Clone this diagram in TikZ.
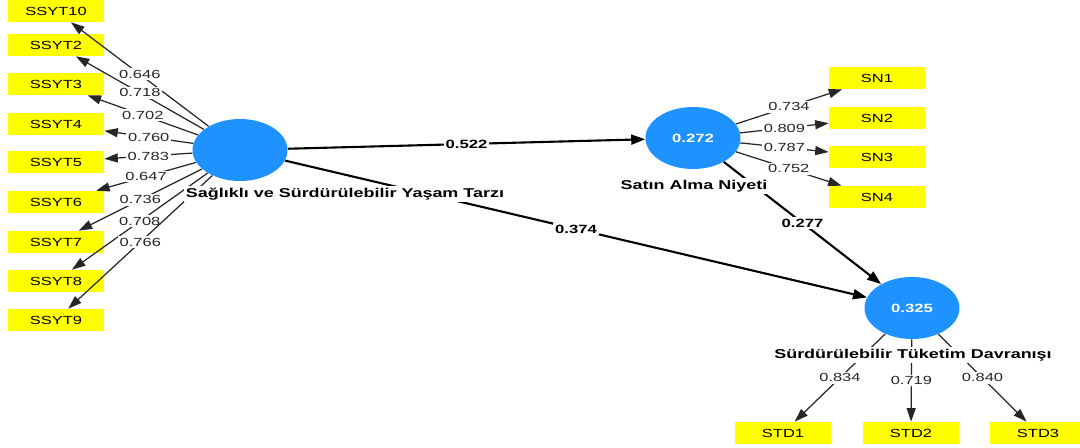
\documentclass[tikz,border=0pt]{standalone}
\usepackage{fontspec}
\newfontfamily\plsfont[FakeStretch=1.4]{Liberation Sans}
\usetikzlibrary{arrows.meta,shapes.geometric}
\definecolor{lvblue}{RGB}{30,146,255}
\definecolor{mvyellow}{RGB}{255,255,0}
\begin{document}
\begin{tikzpicture}[x=0.02cm, y=-0.02cm,
        indicator/.style={fill=mvyellow, minimum width=1.92cm, minimum height=0.44cm, inner sep=0pt, font=\plsfont\fontsize{6.7}{8}\selectfont},
        construct/.style={ellipse, fill=lvblue, minimum width=1.9cm, minimum height=1.24cm, inner sep=0pt, text=white, font=\plsfont\bfseries\fontsize{6.8}{8}\selectfont},
        construct_name/.style={fill=white, inner sep=1pt, font=\plsfont\bfseries\fontsize{7.3}{8}\selectfont},
        loading_edge/.style={black!85, line width=0.7pt, -{Triangle[length=0.27cm, width=0.18cm]}},
        path_edge/.style={black, line width=1.2pt, -{Triangle[length=0.28cm, width=0.2cm]}},
        loading/.style={fill=white, inner sep=1pt, pos=0.5, font=\plsfont\fontsize{6.7}{8}\selectfont},
        coefficient/.style={fill=white, inner sep=1pt, pos=0.5, font=\plsfont\bfseries\fontsize{6.8}{8}\selectfont}
    ]
    \useasboundingbox[fill=white] (0,0) rectangle (1080,447);

    % Constructs
    \node[construct] (syt) at (240,150) {};
    \node[construct] (san) at (693,138) {0.272};
    \node[construct] (std) at (912,308) {0.325};

    % Indicators
    \node[indicator] (ssyt10) at (56,11) {SSYT10};
    \node[indicator] (ssyt2) at (56,45) {SSYT2};
    \node[indicator] (ssyt3) at (56,84) {SSYT3};
    \node[indicator] (ssyt4) at (56,124) {SSYT4};
    \node[indicator] (ssyt5) at (56,162) {SSYT5};
    \node[indicator] (ssyt6) at (56,202) {SSYT6};
    \node[indicator] (ssyt7) at (56,242) {SSYT7};
    \node[indicator] (ssyt8) at (56,281) {SSYT8};
    \node[indicator] (ssyt9) at (56,320) {SSYT9};

    \node[indicator] (sn1) at (877,78) {SN1};
    \node[indicator] (sn2) at (877,118) {SN2};
    \node[indicator] (sn3) at (877,157) {SN3};
    \node[indicator] (sn4) at (877,197) {SN4};

    \node[indicator] (std1) at (783,433) {STD1};
    \node[indicator] (std2) at (911,433) {STD2};
    \node[indicator] (std3) at (1038,433) {STD3};

    % Outer loadings
    \draw[loading_edge] (syt) -- node[loading] {0.646} (ssyt10);
    \draw[loading_edge] (syt) -- node[loading] {0.718} (ssyt2);
    \draw[loading_edge] (syt) -- node[loading] {0.702} (ssyt3);
    \draw[loading_edge] (syt) -- node[loading] {0.760} (ssyt4);
    \draw[loading_edge] (syt) -- node[loading] {0.783} (ssyt5);
    \draw[loading_edge] (syt) -- node[loading] {0.647} (ssyt6);
    \draw[loading_edge] (syt) -- node[loading] {0.736} (ssyt7);
    \draw[loading_edge] (syt) -- node[loading] {0.708} (ssyt8);
    \draw[loading_edge] (syt) -- node[loading] {0.766} (ssyt9);

    \draw[loading_edge] (san) -- node[loading] {0.734} (sn1);
    \draw[loading_edge] (san) -- node[loading] {0.809} (sn2);
    \draw[loading_edge] (san) -- node[loading] {0.787} (sn3);
    \draw[loading_edge] (san) -- node[loading] {0.752} (sn4);

    \draw[loading_edge] (std) -- node[loading] {0.834} (std1);
    \draw[loading_edge] (std) -- node[loading] {0.719} (std2);
    \draw[loading_edge] (std) -- node[loading] {0.840} (std3);

    % Path coefficients
    \draw[path_edge] (syt) -- node[coefficient] {0.522} (san);
    \draw[path_edge] (syt) -- node[coefficient] {0.374} (std);
    \draw[path_edge] (san) -- node[coefficient] {0.277} (std);

    % Construct names
    \node[construct_name] (syt_name) at (345,194) {Sağlıklı ve Sürdürülebilir Yaşam Tarzı};
    \node[construct_name] (san_name) at (694,186) {Satın Alma Niyeti};
    \node[construct_name] (std_name) at (913,355) {Sürdürülebilir Tüketim Davranışı};
\end{tikzpicture}
\end{document}
